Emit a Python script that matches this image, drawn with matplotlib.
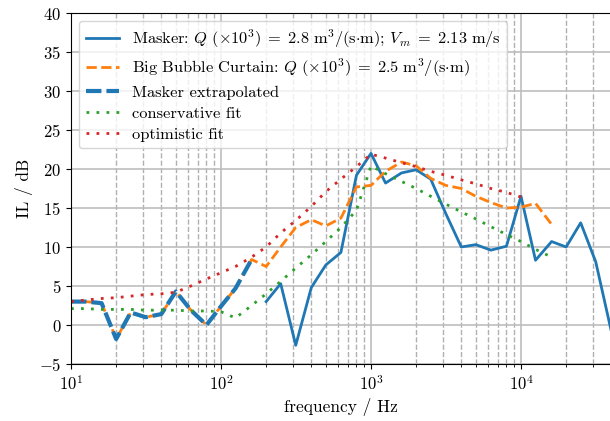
import matplotlib
matplotlib.use('Agg')
import matplotlib.pyplot as plt

plt.rcParams['font.family'] = 'serif'
plt.rcParams['font.serif'] = ['cmr10']
plt.rcParams['mathtext.fontset'] = 'cm'
plt.rcParams['axes.formatter.use_mathtext'] = True
plt.rcParams['axes.unicode_minus'] = True

# third-octave band centres
f_low = [10, 12.5, 16, 20, 25, 31.5, 40, 50, 63, 80, 100, 125, 160]
f_masker = [200, 250, 315, 400, 500, 630, 800, 1000, 1250, 1600, 2000, 2500,
            3150, 4000, 5000, 6300, 8000, 10000, 12500, 16000, 20000, 25000,
            31500, 40000]
f_bbc = f_low + [200, 250, 315, 400, 500, 630, 800, 1000, 1250, 1600, 2000,
                 2500, 3150, 4000, 5000, 6300, 8000, 10000, 12500, 16000]
f_cons = f_low + [200, 250, 315, 400, 500, 630, 800, 1000, 1250, 1600, 2000,
                  2500, 3150, 4000, 5000, 6300, 8000, 10000, 12500, 16000]
f_opt = f_low + [200, 250, 315, 400, 500, 630, 800, 1000, 1250, 1600, 2000,
                 2500, 3150, 4000, 5000, 6300, 8000, 10000]

il_extrap = [3.0, 3.0, 2.8, -1.8, 1.6, 1.0, 1.4, 4.3, 1.9, 0.0, 2.4, 4.7, 8.4]
il_masker = [3.0, 5.3, -2.6, 4.8, 7.7, 9.3, 19.2, 22.0, 18.2, 19.5, 19.9, 18.7,
             14.3, 10.0, 10.3, 9.6, 10.1, 16.5, 8.3, 10.7, 10.0, 13.1, 8.1, -0.8]
il_bbc = il_extrap + [7.5, 10.0, 12.5, 13.5, 12.7, 13.7, 17.7, 17.9, 19.7,
                      20.9, 20.4, 18.8, 17.9, 17.5, 16.5, 15.7, 15.0, 15.1,
                      15.6, 12.9]
il_cons = [2.1, 2.1, 2.0, 2.0, 2.0, 1.9, 1.9, 1.9, 1.8, 1.8, 1.7, 0.9, 2.5,
           4.0, 5.6, 7.3, 9.0, 10.7, 12.5, 14.7, 20.4, 19.4, 18.4, 17.5, 16.5,
           15.5, 14.5, 13.6, 12.6, 11.6, 10.7, 9.7, 8.7]
il_opt = [3.0, 3.2, 3.4, 3.5, 3.7, 3.9, 4.0, 4.2, 5.0, 5.9, 6.7, 7.5, 8.7,
          10.0, 11.8, 13.4, 15.2, 17.1, 18.7, 20.3, 21.9, 21.4, 20.8, 20.3,
          19.7, 19.2, 18.6, 18.1, 17.5, 17.0, 16.4]

fig = plt.figure(figsize=(6.1, 4.21), dpi=100)
ax = fig.add_axes([71 / 610, 57 / 421, 540.3 / 610, 351 / 421])

dots = (0, (1, 2.6))
ax.plot(f_masker, il_masker, color='C0', lw=2,
        label=r'Masker: $Q\ (\times 10^3) \;=\; 2.8\ \mathrm{m^3/(s{\cdot}m)}$; $V_m \;=\; 2.13\ \mathrm{m/s}$')
ax.plot(f_bbc, il_bbc, color='C1', lw=2, ls='--',
        label=r'Big Bubble Curtain: $Q\ (\times 10^3) \;=\; 2.5\ \mathrm{m^3/(s{\cdot}m)}$')
ax.plot(f_low, il_extrap, color='C0', lw=3, ls=(0, (3.7, 1.2)),
        label='Masker extrapolated')
ax.plot(f_cons, il_cons, color='C2', lw=2, ls=dots, label='conservative fit')
ax.plot(f_opt, il_opt, color='C3', lw=2, ls=dots, label='optimistic fit')

ax.set_xscale('log')
ax.set_xlim(10, 40000)
ax.set_ylim(-5, 40)
ax.grid(which='major', color='#bdbdbd', lw=1.2)
ax.grid(which='minor', axis='x', color='#b0b0b0', ls='--', lw=1)
ax.set_axisbelow(True)
ax.tick_params(labelsize=12)
ax.set_xlabel('frequency / Hz', fontsize=12.5)
ax.set_ylabel('IL / dB', fontsize=12.5)
ax.legend(loc='upper left', fontsize=11.8, labelspacing=0.38)

fig.savefig('out.png', dpi=100)
